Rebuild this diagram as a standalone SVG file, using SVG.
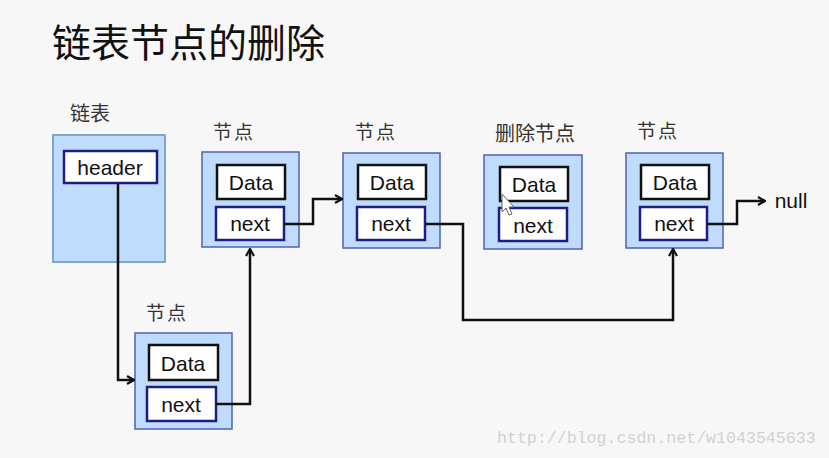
<svg xmlns="http://www.w3.org/2000/svg" width="829" height="458" viewBox="0 0 829 458">
<defs>
<style>
.cn{font-family:"Noto Sans CJK SC","Noto Sans",sans-serif;fill:#333}
.t{font-family:"Liberation Sans",Arial,sans-serif;font-size:21px;fill:#111;text-anchor:middle}
.outer{fill:#c0dcfd;stroke:#5060b8;stroke-width:1.5}
.data{fill:#fff;stroke:#111;stroke-width:2.5}
.next{fill:#fff;stroke:#1e1e82;stroke-width:2.5}
.c{fill:none;stroke:#111;stroke-width:2.5}
</style>
<marker id="ah" viewBox="0 0 10 10" refX="9" refY="5" markerWidth="10" markerHeight="10" markerUnits="userSpaceOnUse" orient="auto">
<path d="M2,1 L9,5 L2,9" fill="none" stroke="#111" stroke-width="2.2"/>
</marker>
</defs>
<rect width="829" height="458" fill="#f7f7f7"/>
<text class="cn" x="52" y="57" font-size="39" style="fill:#111">链表节点的删除</text>

<g id="list">
<text class="cn" x="70" y="121" font-size="20">链表</text>
<rect x="53" y="135" width="112" height="127" fill="#c0dcfd" stroke="#80a6c8" stroke-width="2"/>
<rect class="next" x="64" y="151" width="93" height="32"/>
<text class="t" x="110" y="175">header</text>
</g>

<g id="node1">
<text class="cn" x="213" y="139" font-size="19" letter-spacing="2">节点</text>
<rect class="outer" x="202" y="152" width="97" height="95"/>
<rect class="data" x="217" y="165" width="68" height="34"/>
<text class="t" x="251" y="190">Data</text>
<rect class="next" x="216" y="207" width="68" height="33"/>
<text class="t" x="250" y="231">next</text>
</g>

<g id="node2">
<text class="cn" x="355" y="139" font-size="19" letter-spacing="2">节点</text>
<rect class="outer" x="343" y="153" width="97" height="95"/>
<rect class="data" x="358" y="165" width="68" height="34"/>
<text class="t" x="392" y="190">Data</text>
<rect class="next" x="357" y="207" width="68" height="33"/>
<text class="t" x="391" y="231">next</text>
</g>

<g id="deleted">
<text class="cn" x="495" y="141" font-size="20">删除节点</text>
<rect class="outer" x="484" y="155" width="98" height="94"/>
<rect class="data" x="500" y="167" width="68" height="34"/>
<text class="t" x="534" y="192">Data</text>
<rect class="next" x="499" y="208" width="68" height="33"/>
<text class="t" x="533" y="233">next</text>
<path d="M502,194 L502,212 L506,208 L509,215 L512,214 L509,207 L514,207 Z" fill="#fff" stroke="#666" stroke-width="1"/>
</g>

<g id="node4">
<text class="cn" x="637" y="138" font-size="19" letter-spacing="2">节点</text>
<rect class="outer" x="626" y="153" width="97" height="95"/>
<rect class="data" x="641" y="165" width="68" height="34"/>
<text class="t" x="675" y="190">Data</text>
<rect class="next" x="640" y="207" width="67" height="33"/>
<text class="t" x="674" y="231">next</text>
</g>

<g id="null">
<text class="t" x="791" y="208">null</text>
</g>

<g id="node0">
<text class="cn" x="146" y="320" font-size="19" letter-spacing="2">节点</text>
<rect class="outer" x="135" y="333" width="97" height="96"/>
<rect class="data" x="149" y="345" width="69" height="35"/>
<text class="t" x="183" y="371">Data</text>
<rect class="next" x="147" y="387" width="69" height="34"/>
<text class="t" x="181" y="412">next</text>
</g>

<g id="connectors">
<path class="c" d="M118,184 L118,380 L134,380" marker-end="url(#ah)"/>
<path class="c" d="M216,404 L250,404 L250,249" marker-end="url(#ah)"/>
<path class="c" d="M284,224 L313,224 L313,199 L342,199" marker-end="url(#ah)"/>
<path class="c" d="M425,224 L463,224 L463,320 L673,320 L673,249" marker-end="url(#ah)"/>
<path class="c" d="M707,224 L737,224 L737,201 L765,201" marker-end="url(#ah)"/>
</g>

<text x="497" y="443" font-family="Liberation Mono,monospace" font-size="16.6" fill="#d2d2d2">http://blog.csdn.net/w1043545633</text>
</svg>
